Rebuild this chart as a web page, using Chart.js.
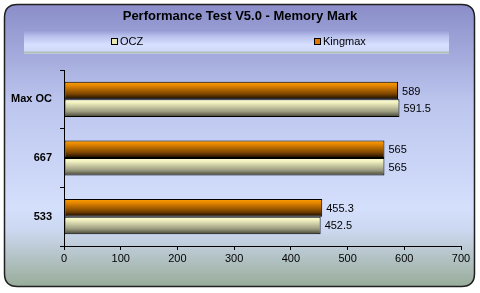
<!DOCTYPE html>
<html>
<head>
<meta charset="utf-8">
<script src="https://cdn.jsdelivr.net/npm/chart.js@4/dist/chart.umd.min.js"></script>
<style>
  html, body { margin: 0; padding: 0; background: #fff; }
  #wrap { width: 480px; height: 293px; }
</style>
</head>
<body>
<div id="wrap"><canvas id="chart"></canvas></div>
<script>
// Data
const categories = ['Max OC', '667', '533'];
const oczValues = [591.5, 565, 452.5];
const kingmaxValues = [589, 565, 455.3];
const xTicks = [0, 100, 200, 300, 400, 500, 600, 700];
const chartTitle = 'Performance Test V5.0 - Memory Mark';

const FONT = '"Liberation Sans", Arial, sans-serif';

// colours for the bar gradients (top -> bottom)
const GRAD = {
  OCZ: ['#ffffd0', '#f0f0c0', '#9a9a80', '#404030'],
  Kingmax: ['#ffa000', '#e88800', '#7a4400', '#100800']
};

function roundRect(ctx, x, y, w, h, r) {
  ctx.beginPath();
  ctx.moveTo(x + r, y);
  ctx.lineTo(x + w - r, y);
  ctx.quadraticCurveTo(x + w, y, x + w, y + r);
  ctx.lineTo(x + w, y + h - r);
  ctx.quadraticCurveTo(x + w, y + h, x + w - r, y + h);
  ctx.lineTo(x + r, y + h);
  ctx.quadraticCurveTo(x, y + h, x, y + h - r);
  ctx.lineTo(x, y + r);
  ctx.quadraticCurveTo(x, y, x + r, y);
  ctx.closePath();
}

const frame = {
  id: 'frame',
  beforeDraw(chart) {
    const { ctx } = chart;
    ctx.save();
    // panel background
    roundRect(ctx, 4.5, 4.5, 470, 282, 13);
    const bg = ctx.createLinearGradient(0, 4, 0, 287);
    bg.addColorStop(0, '#8a8dc8');
    bg.addColorStop(0.35, '#bcc6ee');
    bg.addColorStop(0.72, '#d4dffc');
    bg.addColorStop(0.80, '#ccd8f0');
    bg.addColorStop(1, '#98ac98');
    ctx.fillStyle = bg;
    ctx.fill();
    ctx.lineWidth = 1.5;
    ctx.strokeStyle = '#202020';
    ctx.stroke();

    // legend band
    const lb = ctx.createLinearGradient(0, 30, 0, 54);
    lb.addColorStop(0, '#9398d2');
    lb.addColorStop(0.25, '#b8c0ec');
    lb.addColorStop(0.6, '#d6dfff');
    lb.addColorStop(0.88, '#d0daf8');
    lb.addColorStop(0.92, '#a8b8a8');
    lb.addColorStop(1, '#c8d0f0');
    ctx.fillStyle = lb;
    ctx.fillRect(24, 30, 425, 24);

    // title
    ctx.fillStyle = '#000';
    ctx.font = 'bold 13px ' + FONT;
    ctx.textAlign = 'center';
    ctx.textBaseline = 'middle';
    ctx.fillText(chartTitle, 240, 16);

    // legend items, OCZ first, each centred in half the band
    const items = [
      { label: 'OCZ', color: '#e8e8b0' },
      { label: 'Kingmax', color: '#e07800' }
    ];
    ctx.font = '11px ' + FONT;
    ctx.textAlign = 'left';
    const half = 425 / items.length;
    items.forEach((it, i) => {
      const tw = ctx.measureText(it.label).width;
      const total = 7 + 2 + tw;
      const x0 = Math.round(21 + half * i + half / 2 - total / 2);
      ctx.fillStyle = it.color;
      ctx.fillRect(x0 + 0.5, 38.5, 6, 6);
      ctx.strokeStyle = '#000';
      ctx.lineWidth = 1;
      ctx.strokeRect(x0 + 0.5, 38.5, 6, 6);
      ctx.fillStyle = '#000';
      ctx.fillText(it.label, x0 + 9, 42);
    });
    ctx.restore();
  },
  beforeDatasetsDraw(chart) {
    const { ctx } = chart;
    chart.data.datasets.forEach((ds, di) => {
      const meta = chart.getDatasetMeta(di);
      const stops = GRAD[ds.label];
      meta.data.forEach(bar => {
        const top = bar.y - bar.height / 2;
        const g = ctx.createLinearGradient(0, top, 0, top + bar.height);
        g.addColorStop(0, stops[0]);
        g.addColorStop(0.2, stops[1]);
        g.addColorStop(0.7, stops[2]);
        g.addColorStop(1, stops[3]);
        // own copy so bars do not share one options object
        bar.options = Object.assign({}, bar.options, { backgroundColor: g });
      });
    });
  },
  afterDatasetsDraw(chart) {
    const { ctx } = chart;
    ctx.save();
    ctx.font = '11px ' + FONT;
    ctx.fillStyle = '#000';
    ctx.textAlign = 'left';
    ctx.textBaseline = 'middle';
    chart.data.datasets.forEach((ds, di) => {
      chart.getDatasetMeta(di).data.forEach((bar, i) => {
        ctx.fillText(String(ds.data[i]), bar.x + 4, bar.y + 1);
      });
    });
    ctx.restore();
  }
};

new Chart(document.getElementById('chart'), {
  type: 'bar',
  data: {
    labels: categories,
    datasets: [
      { label: 'Kingmax', data: kingmaxValues, backgroundColor: '#e07800',
        borderColor: '#000', borderWidth: 1, borderSkipped: false },
      { label: 'OCZ', data: oczValues, backgroundColor: '#e8e8b0',
        borderColor: '#000', borderWidth: 1, borderSkipped: false }
    ]
  },
  options: {
    indexAxis: 'y',
    responsive: true,
    maintainAspectRatio: false,
    animation: false,
    layout: { padding: { top: 70, right: 19, bottom: 28, left: 0 } },
    datasets: { bar: { categoryPercentage: 0.6, barPercentage: 1.0 } },
    plugins: {
      legend: { display: false },
      title: { display: false },
      tooltip: { enabled: false }
    },
    scales: {
      x: {
        min: 0, max: 700,
        afterBuildTicks(scale) { scale.ticks = xTicks.map(v => ({ value: v })); },
        afterFit(scale) { scale.height = 19; },
        grid: { drawOnChartArea: false, tickLength: 4, color: '#000' },
        border: { color: '#000', width: 1 },
        ticks: { color: '#000', font: { family: FONT, size: 11 }, padding: 2, maxRotation: 0 }
      },
      y: {
        afterFit(scale) { scale.width = 64; },
        grid: { drawOnChartArea: false, tickLength: 4, color: '#000', offset: true },
        border: { color: '#000', width: 1 },
        ticks: { color: '#000', font: { family: FONT, size: 11, weight: 'bold' }, padding: 8 }
      }
    }
  },
  plugins: [frame]
});
</script>
</body>
</html>
